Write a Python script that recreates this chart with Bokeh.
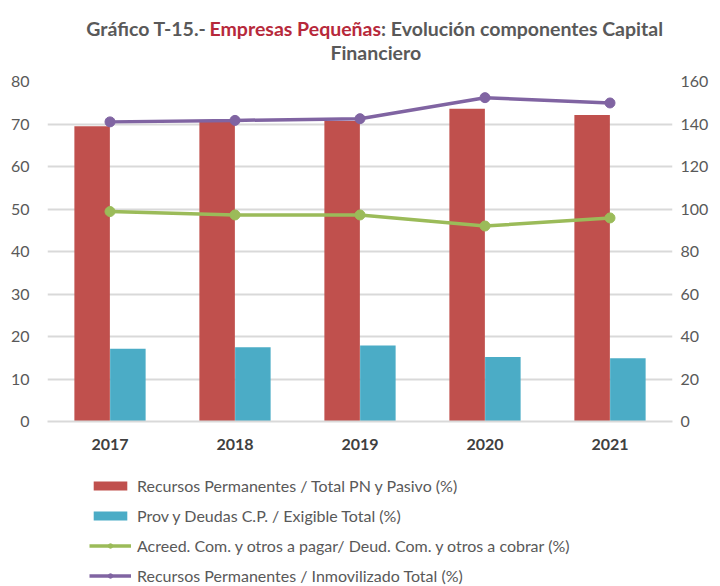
from bokeh.plotting import figure
from bokeh.layouts import column
from bokeh.models import (ColumnDataSource, FactorRange, Range1d, LinearAxis, FixedTicker,
                          Legend, LegendItem)
from bokeh.transform import dodge
from bokeh.core.properties import value
from bokeh.embed import file_html
from bokeh.resources import INLINE

years = ["2017", "2018", "2019", "2020", "2021"]
rec_perm_total = [69.5, 70.5, 70.7, 73.6, 72.1]
prov_deudas = [17.1, 17.5, 17.9, 15.2, 14.9]
acreed_deud = [49.4, 48.6, 48.6, 46.0, 47.9]
rec_perm_inmov = [141.0, 141.7, 142.5, 152.4, 149.9]
left_ticks = [0, 10, 20, 30, 40, 50, 60, 70, 80]
right_ticks = [0, 20, 40, 60, 80, 100, 120, 140, 160]

labels = ["Recursos Permanentes / Total PN y Pasivo (%)",
          "Prov y Deudas C.P. / Exigible Total (%)",
          "Acreed. Com. y otros a pagar/ Deud. Com. y otros a cobrar (%)",
          "Recursos Permanentes / Inmovilizado Total (%)"]

RED = "#C0504D"
BLUE = "#4BACC6"
GREEN = "#9BBB59"
PURPLE = "#8064A2"
GRAY = "#595959"
FONT = "Lato"

W = 712


def blank(height, x_range=None, y_range=None):
    f = figure(width=W, height=height,
               x_range=x_range if x_range is not None else Range1d(0, W),
               y_range=y_range if y_range is not None else Range1d(0, height),
               x_axis_type=None, y_axis_type=None, output_backend="svg",
               toolbar_location=None, min_border=0)
    f.outline_line_color = None
    f.xgrid.grid_line_color = None
    f.ygrid.grid_line_color = None
    return f


# ---------- title strip ----------
TH = 62
t = blank(TH)
tfont = dict(text_font=value(FONT), text_font_size="19.5px", text_font_style="bold",
             text_baseline="alphabetic")
ty1 = TH - 27.7
ty2 = TH - 51.7
t.text(x=[181, 380], y=[ty1, ty1], text=["Gráfico T-15.-", "Empresas Pequeñas"],
       text_align="right", text_color=[GRAY, "#B7293B"], **tfont)
t.text(x=[380], y=[ty1], text=[": Evolución componentes Capital"],
       text_align="left", text_color=GRAY, **tfont)
t.text(x=[374], y=[ty2], text=["Financiero"], text_align="center", text_color=GRAY, **tfont)

# ---------- main chart ----------
src = ColumnDataSource(dict(year=years, rpt=rec_perm_total, pd=prov_deudas,
                            ad=acreed_deud, rpi=rec_perm_inmov))

MH = 19 + 340 + 45
p = figure(x_range=FactorRange(*years), y_range=Range1d(0, 80),
           width=W, height=MH, output_backend="svg", toolbar_location=None,
           min_border_left=47, min_border_right=W - 47 - 625, min_border_top=19,
           min_border_bottom=45)
p.extra_y_ranges = {"right": Range1d(0, 160)}
p.outline_line_color = None

bars = dict(width=0.284, source=src, line_color=None)
p.vbar(x=dodge("year", -0.143, range=p.x_range), top="rpt", fill_color=RED, **bars)
p.vbar(x=dodge("year", 0.143, range=p.x_range), top="pd", fill_color=BLUE, **bars)
p.line(x="year", y="ad", source=src, line_color=GREEN, line_width=3.5)
p.scatter(x="year", y="ad", source=src, size=10, fill_color=GREEN, line_color=GREEN)
p.line(x="year", y="rpi", source=src, line_color=PURPLE, line_width=3.5, y_range_name="right")
p.scatter(x="year", y="rpi", source=src, size=10, fill_color=PURPLE, line_color=PURPLE,
          y_range_name="right")

p.yaxis.ticker = FixedTicker(ticks=left_ticks)
p.yaxis.axis_line_color = None
p.yaxis.major_tick_line_color = None
p.yaxis.minor_tick_line_color = None
p.yaxis.major_tick_out = 0
p.yaxis.major_label_standoff = 18
p.yaxis.major_label_text_font = FONT
p.yaxis.major_label_text_font_size = "16px"
p.yaxis.major_label_text_color = GRAY

ra = LinearAxis(y_range_name="right", ticker=FixedTicker(ticks=right_ticks))
ra.axis_line_color = None
ra.major_tick_line_color = None
ra.minor_tick_line_color = None
ra.major_tick_out = 0
ra.major_label_standoff = 8
ra.axis_label_standoff = 0
ra.major_label_text_font = FONT
ra.major_label_text_font_size = "16px"
ra.major_label_text_color = GRAY
p.add_layout(ra, "right")

p.xaxis.axis_line_color = "#D9D9D9"
p.xaxis.axis_line_width = 2
p.xaxis.major_tick_line_color = None
p.xaxis.minor_tick_line_color = None
p.xaxis.major_tick_out = 0
p.xaxis.major_label_standoff = 17
p.xaxis.axis_label_standoff = 0
p.xaxis.major_label_text_font = FONT
p.xaxis.major_label_text_font_size = "16px"
p.xaxis.major_label_text_font_style = "bold"
p.xaxis.major_label_text_color = "#404040"

p.xgrid.grid_line_color = None
p.ygrid.grid_line_color = "#D9D9D9"
p.ygrid.grid_line_width = 2

# ---------- legend strip (same series, drawn outside its visible range) ----------
LGH = 586 - TH - MH
lg = blank(LGH, x_range=FactorRange(*years), y_range=Range1d(1000, 1001))
r1 = lg.vbar(x="year", top="rpt", width=0.3, source=src, fill_color=RED, line_color=None)
r2 = lg.vbar(x="year", top="pd", width=0.3, source=src, fill_color=BLUE, line_color=None)
r3 = lg.line(x="year", y="ad", source=src, line_color=GREEN, line_width=3.5)
r3m = lg.scatter(x="year", y="ad", source=src, size=10, fill_color=GREEN, line_color=GREEN)
r4 = lg.line(x="year", y="rpi", source=src, line_color=PURPLE, line_width=3.5)
r4m = lg.scatter(x="year", y="rpi", source=src, size=10, fill_color=PURPLE, line_color=PURPLE)

LH = 4 * 20 + 3 * 10
first_top = 485 - 10 - (TH + MH)
legend = Legend(items=[LegendItem(label=labels[0], renderers=[r1]),
                       LegendItem(label=labels[1], renderers=[r2]),
                       LegendItem(label=labels[2], renderers=[r3, r3m]),
                       LegendItem(label=labels[3], renderers=[r4, r4m])],
                location=(42, LGH - first_top - LH), orientation="vertical",
                glyph_width=42, glyph_height=11, label_height=20, spacing=10,
                label_standoff=6, padding=0, margin=0,
                border_line_color=None, background_fill_alpha=0,
                label_text_font=FONT, label_text_font_size="16px", label_text_color=GRAY)
lg.add_layout(legend, "center")

layout = column(t, p, lg, spacing=0)
open("out.html", "w").write(file_html(layout, INLINE))
